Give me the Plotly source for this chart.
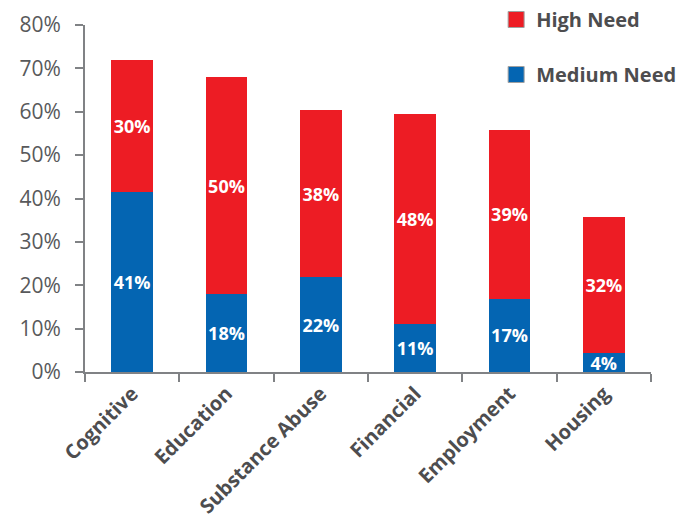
import plotly.graph_objects as go

categories = ["Cognitive", "Education", "Substance Abuse", "Financial", "Employment", "Housing"]
medium_need = [41.5, 18.0, 21.9, 11.1, 16.9, 4.3]
high_need = [30.5, 49.9, 38.4, 48.3, 39.0, 31.4]
medium_labels = ["41%", "18%", "22%", "11%", "17%", "4%"]
high_labels = ["30%", "50%", "38%", "48%", "39%", "32%"]
y_tick_values = [0, 10, 20, 30, 40, 50, 60, 70, 80]
y_tick_labels = ["0%", "10%", "20%", "30%", "40%", "50%", "60%", "70%", "80%"]

RED = "#ED1C24"
BLUE = "#0465B2"
AXIS = "#808285"
TEXT = "#58595B"
LABEL_FONT = dict(family="Open Sans", size=18, color="white", weight="bold")

fig = go.Figure()
fig.add_trace(go.Bar(
    x=categories, y=medium_need, name="Medium Need", marker_color=BLUE,
    marker_line_width=0, text=medium_labels, textposition="inside",
    insidetextanchor="middle", textangle=0, constraintext="none",
    textfont=LABEL_FONT, showlegend=False, hoverinfo="x+y",
))
fig.add_trace(go.Bar(
    x=categories, y=high_need, name="High Need", marker_color=RED,
    marker_line_width=0, text=high_labels, textposition="inside",
    insidetextanchor="middle", textangle=0, constraintext="none",
    textfont=LABEL_FONT, showlegend=False, hoverinfo="x+y",
))
# legend entries
for name, col, grp in [("High Need", RED, "a"), ("Medium Need", BLUE, "b")]:
    fig.add_trace(go.Scatter(
        x=[None], y=[None], mode="markers", name=name, legendgroup=grp,
        marker=dict(symbol="square", size=16, color=col, line=dict(color="#A0A0A0", width=1)),
    ))

fig.update_layout(
    width=691, height=527,
    margin=dict(l=85, r=40, t=25, b=155, autoexpand=False),
    barmode="stack", bargap=0.555,
    plot_bgcolor="white", paper_bgcolor="white",
    font=dict(family="Open Sans", color=TEXT),
    legend=dict(
        xref="container", yref="container",
        x=0.718, y=1.0, xanchor="left", yanchor="top",
        font=dict(size=20, color="#4D4D4F", weight="bold"),
        traceorder="grouped", tracegroupgap=26,
        bgcolor="rgba(0,0,0,0)",
    ),
    xaxis=dict(
        showline=True, linecolor=AXIS, linewidth=2,
        ticks="outside", tickson="boundaries", ticklen=8, tickwidth=2, tickcolor=AXIS,
        tickangle=-45, tickfont=dict(size=20, color="#4D4D4F", weight="bold"),
        showgrid=False,
    ),
    yaxis=dict(
        range=[0, 80], tickmode="array", tickvals=y_tick_values, ticktext=y_tick_labels,
        showline=True, linecolor=AXIS, linewidth=2,
        ticks="outside", ticklen=8, tickwidth=2, tickcolor=AXIS, ticklabelstandoff=10,
        tickfont=dict(size=21, color=TEXT), showgrid=False, zeroline=False,
    ),
)

fig.write_html("out.html")
